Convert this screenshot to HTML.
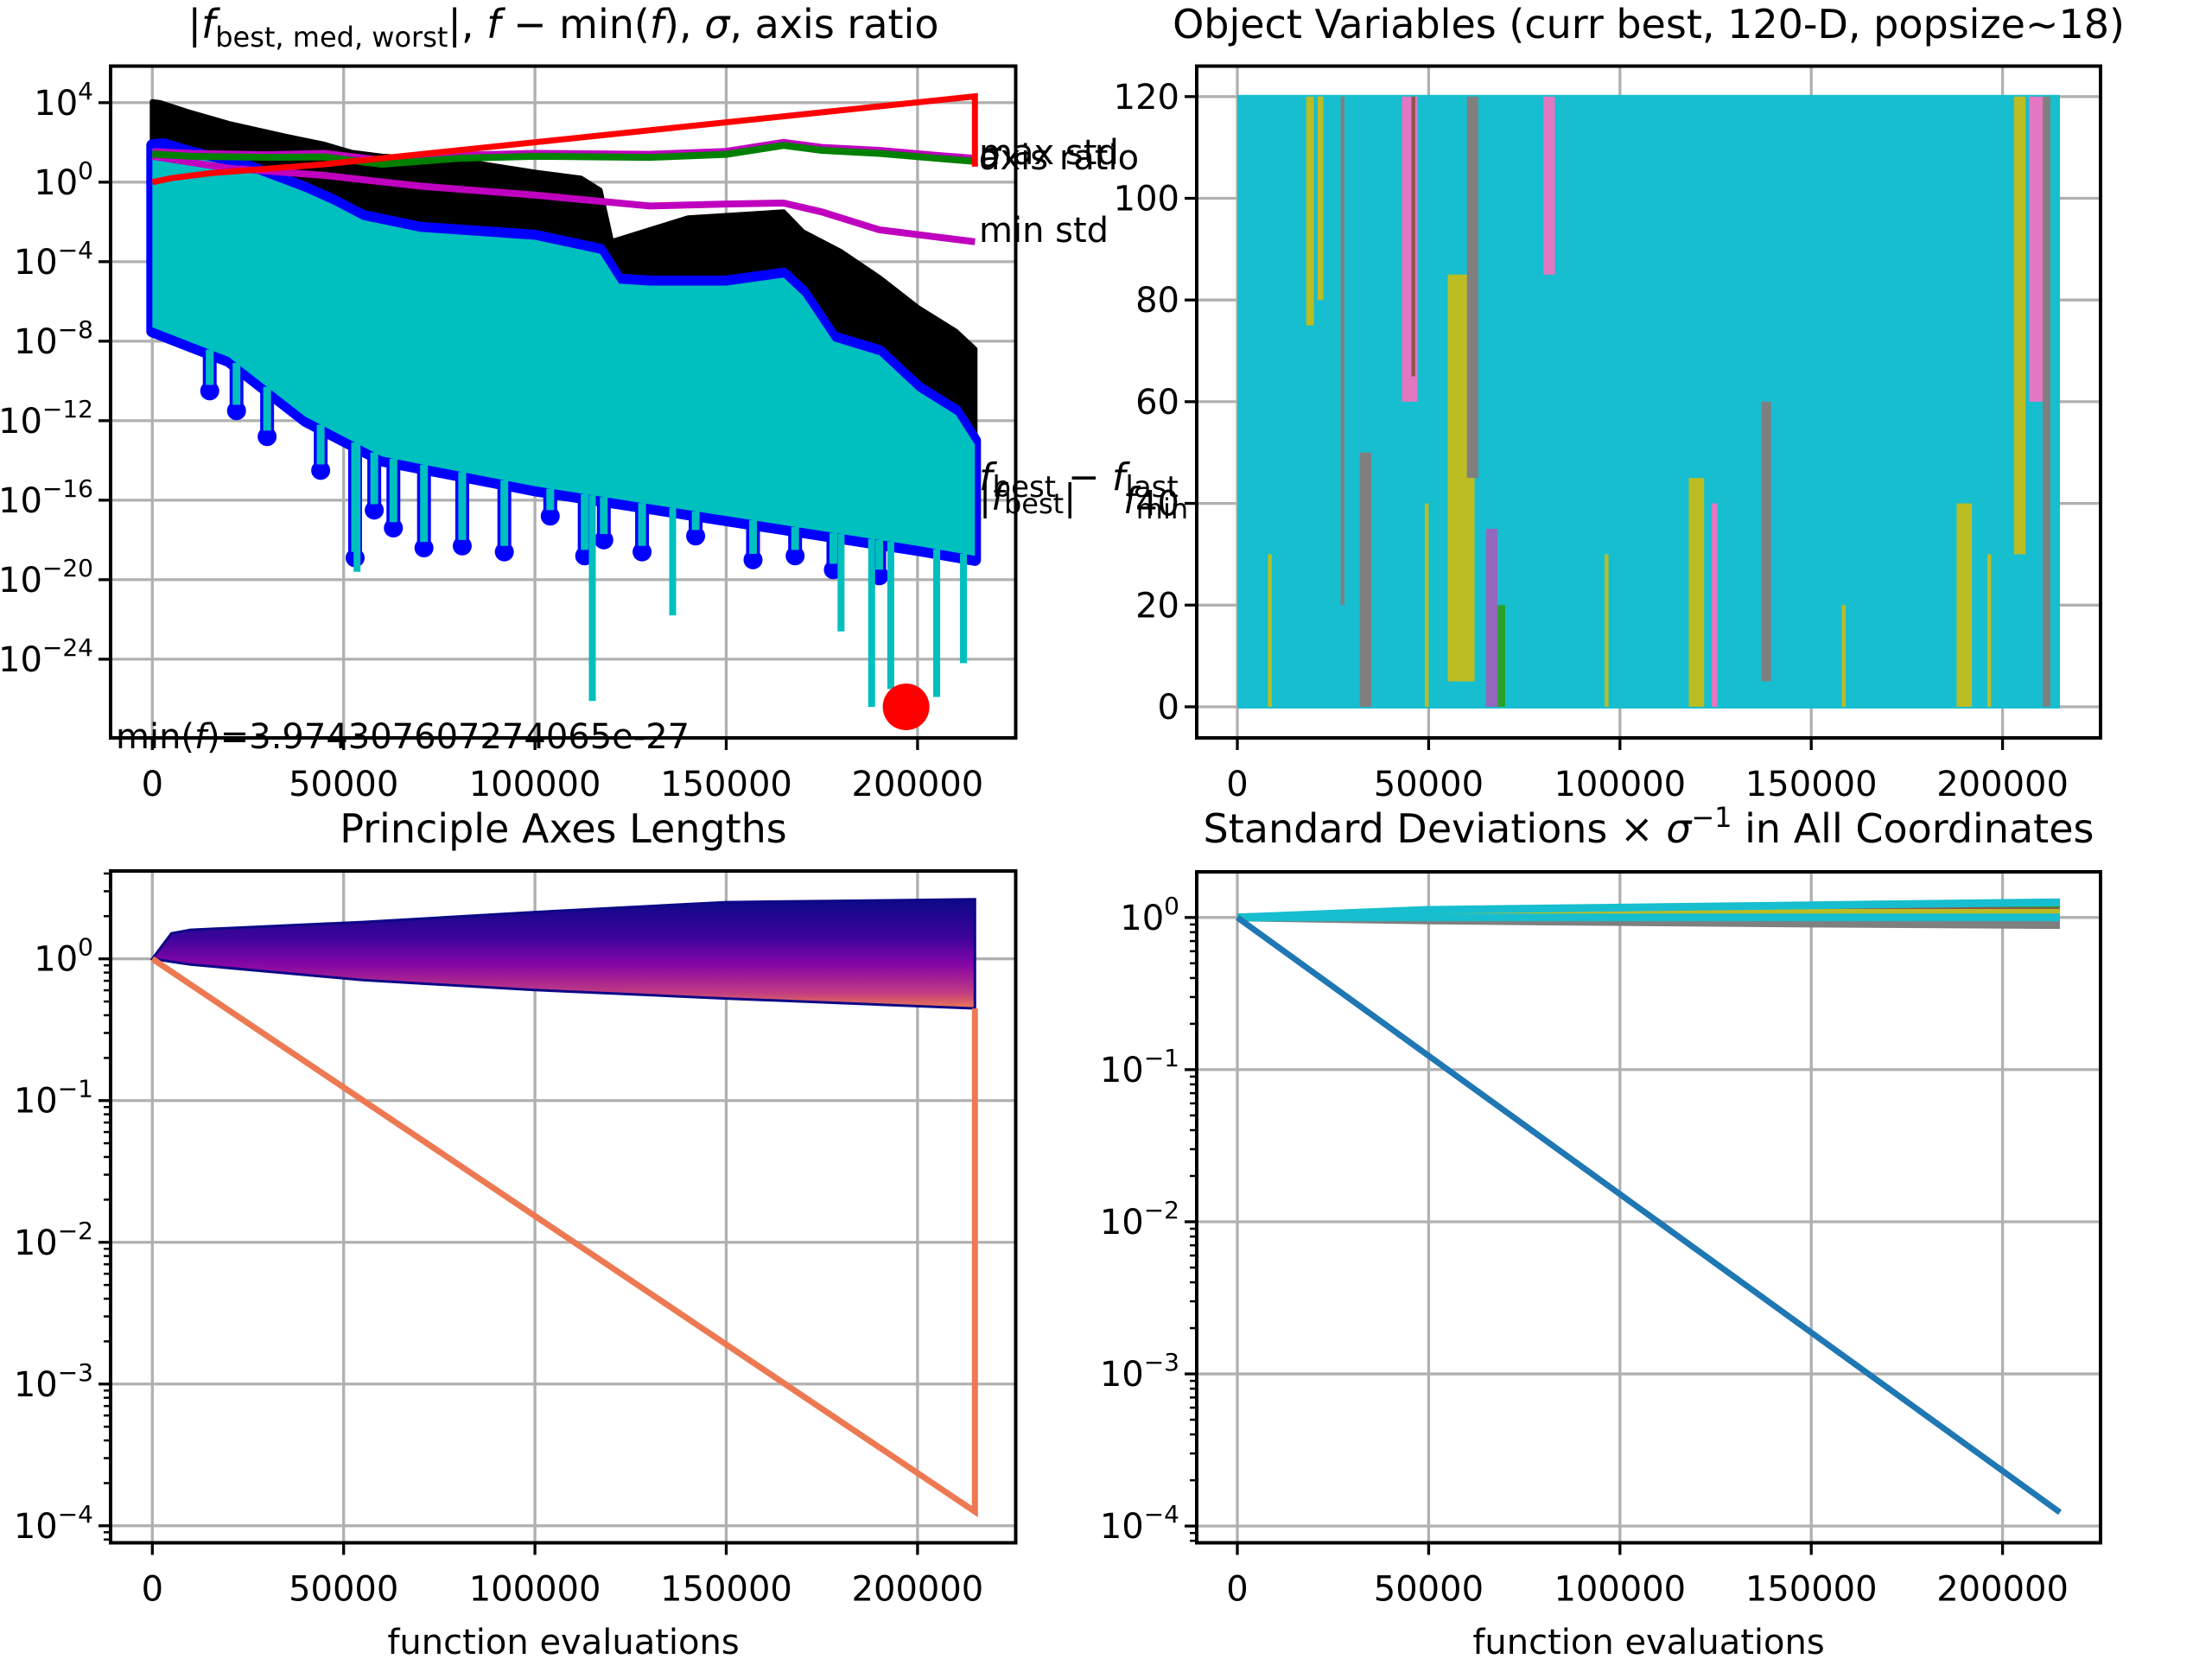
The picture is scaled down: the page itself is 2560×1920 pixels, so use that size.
<!DOCTYPE html>
<html><head><meta charset="utf-8">
<style>
html,body{margin:0;padding:0;background:#fff;}
svg{display:block;font-family:"DejaVu Sans","Liberation Sans",sans-serif;}
</style></head>
<body>
<svg id="fig" width="2560" height="1920" viewBox="0 0 2560 1920" xmlns="http://www.w3.org/2000/svg">
<defs>
<linearGradient id="plasmaGrad" x1="0" y1="0" x2="0" y2="1">
<stop offset="0" stop-color="#0d0887"/>
<stop offset="0.35" stop-color="#3d049b"/>
<stop offset="0.6" stop-color="#8606a6"/>
<stop offset="0.85" stop-color="#c03a83"/>
<stop offset="1" stop-color="#ed7953"/>
</linearGradient>
<clipPath id="clipTL"><rect x="128" y="76.5" width="1047.5" height="777.5"/></clipPath>
<clipPath id="clipTR"><rect x="1385" y="76.5" width="1046" height="777.5"/></clipPath>
<clipPath id="clipBL"><rect x="128" y="1008" width="1047.5" height="777.5"/></clipPath>
<clipPath id="clipBR"><rect x="1385" y="1009" width="1046" height="776.5"/></clipPath>
</defs>
</svg>
<script>
// ---------- data: top-left (f values, log10) ----------
const blackX   = [0,2000,10000,20000,35000,45000,52000,60000,80000,100000,112000,117000,120000,140000,165000,170000,180000,190000,200000,210000,215000];
const blackTop = [4.05,4.0,3.5,2.95,2.3,1.9,1.5,1.3,1.1,0.5,0.2,-0.4,-3.0,-1.8,-1.5,-2.5,-3.5,-4.8,-6.3,-7.5,-8.4];
const blueX    = [0,3000,10000,25000,40000,47000,55000,70000,100000,117000,122000,130000,150000,165000,170000,178000,190000,200000,210000,215000];
const blueTop  = [1.86,1.9,1.5,0.8,-0.3,-0.9,-1.7,-2.3,-2.7,-3.4,-4.9,-5.0,-5.0,-4.6,-5.5,-7.8,-8.5,-10.3,-11.5,-13.0];
const lowX     = [0,20000,40000,60000,100000,150000,200000,215000];
const blueLow  = [-7.5,-9.0,-12.0,-14.0,-15.5,-17.0,-18.5,-19.0];
const dipX     = [15000,22000,30000,44000,53000,58000,63000,71000,81000,92000,104000,113000,118000,128000,142000,157000,168000,178000,190000];
const dipLog   = [-10.5,-11.5,-12.8,-14.5,-18.9,-16.5,-17.4,-18.4,-18.3,-18.6,-16.8,-18.8,-18.0,-18.6,-17.8,-19.0,-18.8,-19.5,-19.8];
const spikeX   = [53500,115000,136000,180000,188000,193000,205000,212000];
const spikeLog = [-19.6,-26.1,-21.8,-22.6,-26.4,-25.5,-25.9,-24.2];
const redX     = [0,5000,15000,45000,215000,215000];
const redLog   = [0.0,0.2,0.45,0.9,4.32,0.78];
const greenX   = [0,10000,30000,45000,60000,80000,100000,130000,150000,165000,175000,190000,205000,215000];
const greenLog = [1.42,1.3,1.25,1.27,0.9,1.2,1.3,1.25,1.4,1.85,1.6,1.45,1.2,1.05];
const maxStdLog= [1.55,1.45,1.38,1.45,1.1,1.35,1.45,1.4,1.55,2.0,1.75,1.6,1.35,1.2];
const minX     = [0,20000,45000,70000,100000,130000,150000,165000,175000,190000,215000];
const minLog   = [1.3,0.7,0.34,-0.2,-0.65,-1.2,-1.1,-1.05,-1.5,-2.4,-3.0];
const minFX = 197000, minFLog = -26.4;
// ---------- data: top-right (object variables) ----------
const objXEnd = 215000, objLo = 0, objHi = 120;
const stripeX0 = [8000,18000,21000,27000,32000,43000,45500,49000,55000,60000,65000,68000,80000,96000,118000,124000,137000,158000,188000,196000,203000,207000,210500];
const stripeX1 = [9000,20000,22500,28000,35000,47000,46500,50000,62000,63000,68000,70000,83000,97000,122000,125500,139500,159000,192000,197000,206000,211000,212500];
const stripeLo = [0,75,80,20,0,60,65,0,5,45,0,0,85,0,0,0,5,0,0,0,30,60,0];
const stripeHi = [30,120,120,120,50,120,120,40,85,120,35,20,120,30,45,40,60,20,40,30,120,120,120];
const stripeColor = ["#bcbd22","#bcbd22","#bcbd22","#7f7f7f","#7f7f7f","#e377c2","#8c564b","#bcbd22","#bcbd22","#7f7f7f","#9467bd","#2ca02c","#e377c2","#bcbd22","#bcbd22","#e377c2","#7f7f7f","#bcbd22","#bcbd22","#bcbd22","#bcbd22","#e377c2","#7f7f7f"];
// ---------- data: bottom-left (principal axes, log10) ----------
const axX      = [0,5000,10000,55000,100000,150000,215000];
const axTop    = [0,0.18,0.205,0.26,0.33,0.40,0.42];
const axBottom = [0,-0.02,-0.04,-0.15,-0.22,-0.28,-0.35];
const minAxX   = [0,215000,215000];
const minAxLog = [0,-3.9,-0.35];
// ---------- data: bottom-right (std devs, log10) ----------
const sdX = [0,50000,100000,150000,215000];
const sdColors = ["#ff7f0e","#2ca02c","#d62728","#9467bd","#8c564b","#e377c2","#7f7f7f","#bcbd22","#17becf","#17becf"];
const sdA = [0.01,0.03,-0.01,0.0,0.03,0.01,-0.02,0.02,0.05,0.0];
const sdB = [0.02,0.05,-0.02,0.0,0.05,0.01,-0.04,0.03,0.08,0.0];
const sdEnd=[0.02,0.06,-0.03,-0.01,0.04,0.01,-0.05,0.03,0.1,0.0];
const mainSdX = [0,215000];
const mainSdLog = [0,-3.91];

// ---------- tick labels ----------
const xTicks = [0,50000,100000,150000,200000];
const xTickLabels = ["0","50000","100000","150000","200000"];
const tlYTicks = [4,0,-4,-8,-12,-16,-20,-24];
const trYTicks = [0,20,40,60,80,100,120];
const blYTicks = [0,-1,-2,-3,-4];
const brYTicks = [0,-1,-2,-3,-4];

const NS="http://www.w3.org/2000/svg";
const svg=document.getElementById('fig');
function el(tag,attrs,parent){const e=document.createElementNS(NS,tag);for(const k in attrs)e.setAttribute(k,attrs[k]);(parent||svg).appendChild(e);return e;}

function makeAx(l,r,t,b,xmin,xmax,ymin,ymax){
  return {l,r,t,b,x:v=>l+(v-xmin)/(xmax-xmin)*(r-l),y:v=>b-(v-ymin)/(ymax-ymin)*(b-t)};
}
const XMIN=-10908, XMAX=225655, XMIN2=-10614, XMAX2=225610;
const TL=makeAx(128,1175.5,76.5,854,XMIN,XMAX,-27.96,5.84);
const TR=makeAx(1385,2431,76.5,854,XMIN2,XMAX2,-6.12,126.0);
const BL=makeAx(128,1175.5,1008,1785.5,XMIN,XMAX,-4.12,0.62);
const BR=makeAx(1385,2431,1009,1785.5,XMIN2,XMAX2,-4.11,0.30);

function grid(ax,yt,name){
  const g=el('g',{});
  
  
  xTicks.forEach(v=>{el('line',{x1:ax.x(v),x2:ax.x(v),y1:ax.t,y2:ax.b,stroke:'#b0b0b0','stroke-width':3.3},g);});
  yt.forEach(v=>{el('line',{x1:ax.l,x2:ax.r,y1:ax.y(v),y2:ax.y(v),stroke:'#b0b0b0','stroke-width':3.3},g);});
}
function frame(ax,yt,ylab,name,minor){
  const g=el('g',{});
  
  
  el('rect',{x:ax.l,y:ax.t,width:ax.r-ax.l,height:ax.b-ax.t,fill:'none',stroke:'#000','stroke-width':4},g);
  xTicks.forEach((v,i)=>{
    el('line',{x1:ax.x(v),x2:ax.x(v),y1:ax.b,y2:ax.b+14,stroke:'#000','stroke-width':3.3},g);
    const t=el('text',{x:ax.x(v),y:ax.b+67,'font-size':40,'text-anchor':'middle'},g);
    
    
    t.textContent=xTickLabels[i];
  });
  yt.forEach(v=>{
    el('line',{x1:ax.l-14,x2:ax.l,y1:ax.y(v),y2:ax.y(v),stroke:'#000','stroke-width':3.3},g);
    const t=el('text',{x:ax.l-20,y:ax.y(v)+14,'font-size':40,'text-anchor':'end'},g);
    
    
    if(ylab==='lin'){t.textContent=String(v);}
    else{
      const a=el('tspan',{},t);a.textContent='10';
      const s=el('tspan',{dy:-18,'font-size':28},t);s.textContent=(v<0?'\u2212'+(-v):String(v));
    }
  });
  if(minor){
    for(let d=Math.floor(minor[0]);d<minor[1];d++){
      for(let m=2;m<10;m++){
        const lv=d+Math.log10(m);
        if(lv<minor[0]||lv>minor[1])continue;
        el('line',{x1:ax.l-8,x2:ax.l,y1:ax.y(lv),y2:ax.y(lv),stroke:'#000','stroke-width':2.5},g);
      }
    }
  }
}
function poly(ax,xs,ys){return xs.map((v,i)=>ax.x(v).toFixed(1)+','+ax.y(ys[i]).toFixed(1)).join(' ');}
function interp(xs,ys,x){for(let i=1;i<xs.length;i++){if(x<=xs[i]){const f=(x-xs[i-1])/(xs[i]-xs[i-1]||1);return ys[i-1]+f*(ys[i]-ys[i-1]);}}return ys[ys.length-1];}

// ===== Top-left =====
grid(TL,tlYTicks,'fvalue');
{
  const g=el('g',{'clip-path':'url(#clipTL)'});
  
  
  const bx=blackX.concat(lowX.slice().reverse()), by=blackTop.concat(blueLow.slice().reverse());
  let p=el('polygon',{points:poly(TL,bx,by),fill:'#000',stroke:'#000','stroke-width':6,'stroke-linejoin':'round'},g);
  
  
  const ux=blueX.concat(lowX.slice().reverse()), uy=blueTop.concat(blueLow.slice().reverse());
  p=el('polygon',{points:poly(TL,ux,uy),fill:'#0000ff',stroke:'#0000ff','stroke-width':14,'stroke-linejoin':'round'},g);
  
  
  dipX.forEach((x,i)=>{
    const top=interp(lowX,blueLow,x);
    el('line',{x1:TL.x(x),x2:TL.x(x),y1:TL.y(top),y2:TL.y(dipLog[i]),stroke:'#0000ff','stroke-width':16},g);
    const c=el('circle',{cx:TL.x(x),cy:TL.y(dipLog[i]),r:11,fill:'#0000ff'},g);
    
    
  });
  const cy1=blueTop.map(v=>v-0.2), cy2=blueLow.map(v=>v+0.2);
  p=el('polygon',{points:poly(TL,blueX.concat(lowX.slice().reverse()),cy1.concat(cy2.slice().reverse())),fill:'#00bfbf'},g);
  
  
  dipX.forEach((x,i)=>{
    const top=interp(lowX,blueLow,x)+0.2;
    el('line',{x1:TL.x(x),x2:TL.x(x),y1:TL.y(top),y2:TL.y(dipLog[i]+0.3),stroke:'#00bfbf','stroke-width':9},g);
  });
  spikeX.forEach((x,i)=>{
    const top=interp(lowX,blueLow,x)+0.2;
    const l=el('line',{x1:TL.x(x),x2:TL.x(x),y1:TL.y(top),y2:TL.y(spikeLog[i]),stroke:'#00bfbf','stroke-width':8},g);
    
    
  });
  p=el('polyline',{points:poly(TL,greenX,maxStdLog),fill:'none',stroke:'#bf00bf','stroke-width':8},g);
  
  
  p=el('polyline',{points:poly(TL,minX,minLog),fill:'none',stroke:'#bf00bf','stroke-width':8},g);
  
  
  p=el('polyline',{points:poly(TL,greenX,greenLog),fill:'none',stroke:'#008000','stroke-width':8},g);
  
  
  p=el('polyline',{points:poly(TL,redX,redLog),fill:'none',stroke:'#ff0000','stroke-width':7},g);
  
  
  const d=el('circle',{cx:TL.x(minFX),cy:TL.y(minFLog),r:27,fill:'#ff0000'},g);
  
  
}
frame(TL,tlYTicks,'log','fvalue',null);

// ===== Top-right =====
grid(TR,trYTicks,'objvars');
{
  const g=el('g',{'clip-path':'url(#clipTR)'});
  
  
  const r=el('rect',{x:TR.x(0),y:TR.y(objHi)-2,width:TR.x(objXEnd)-TR.x(0),height:TR.y(objLo)-TR.y(objHi)+4,fill:'#17becf'},g);
  
  
  stripeX0.forEach((x0,i)=>{
    const s=el('rect',{x:TR.x(x0),y:TR.y(stripeHi[i]),width:TR.x(stripeX1[i])-TR.x(x0),height:TR.y(stripeLo[i])-TR.y(stripeHi[i]),fill:stripeColor[i]},g);
    
    
  });
}
frame(TR,trYTicks,'lin','objvars',null);

// ===== Bottom-left =====
grid(BL,blYTicks,'axes-lengths');
{
  const g=el('g',{'clip-path':'url(#clipBL)'});
  
  
  const p=el('polygon',{points:poly(BL,axX.concat(axX.slice().reverse()),axTop.concat(axBottom.slice().reverse())),fill:'url(#plasmaGrad)',stroke:'#0d0887','stroke-width':3},g);
  
  
  const m=el('polyline',{points:poly(BL,minAxX,minAxLog),fill:'none',stroke:'#ed7953','stroke-width':7},g);
  
  
}
frame(BL,blYTicks,'log','axes-lengths',[-4.12,0.62]);

// ===== Bottom-right =====
grid(BR,brYTicks,'stds');
{
  const g=el('g',{'clip-path':'url(#clipBR)'});
  
  
  sdColors.forEach((c,i)=>{
    const ys=[0,sdA[i],(sdA[i]+sdB[i])/2,sdB[i],sdEnd[i]];
    const l=el('polyline',{points:poly(BR,sdX,ys),fill:'none',stroke:c,'stroke-width':9},g);
    
    
  });
  const m=el('polyline',{points:poly(BR,mainSdX,mainSdLog),fill:'none',stroke:'#1f77b4','stroke-width':7},g);
  
  
}
frame(BR,brYTicks,'log','stds',[-4.11,0.30]);
</script>
<svg style="position:absolute;left:0;top:0" width="2560" height="1920" viewBox="0 0 2560 1920" xmlns="http://www.w3.org/2000/svg" font-family="DejaVu Sans, Liberation Sans, sans-serif">
<text x="652" y="44" font-size="46" text-anchor="middle">|<tspan font-style="italic">f</tspan><tspan font-size="32" dy="10">best, med, worst</tspan><tspan dy="-10">|, </tspan><tspan font-style="italic">f</tspan> − min(<tspan font-style="italic">f</tspan>), <tspan font-style="italic">σ</tspan>, axis ratio</text>
<text x="1908" y="44" font-size="46" text-anchor="middle">Object Variables (curr best, 120-D, popsize~18)</text>
<text x="652" y="975" font-size="46" text-anchor="middle">Principle Axes Lengths</text>
<text x="1908" y="975" font-size="46" text-anchor="middle">Standard Deviations × <tspan font-style="italic">σ</tspan><tspan font-size="32" dy="-18">−1</tspan><tspan dy="18"> in All Coordinates</tspan></text>
<text x="652" y="1914" font-size="40" text-anchor="middle">function evaluations</text>
<text x="1908" y="1914" font-size="40" text-anchor="middle">function evaluations</text>
<text x="134" y="866" font-size="40">min(<tspan font-style="italic">f</tspan>)=3.974307607274065e-27</text>
<text x="1133" y="190" font-size="40">max std</text>
<text x="1133" y="193" font-size="40" font-style="italic">σ</text>
<text x="1133" y="196" font-size="40">axis ratio</text>
<text x="1133" y="280" font-size="40">min std</text>
<text x="1133" y="567" font-size="44"><tspan font-style="italic">f</tspan><tspan font-size="34" dy="8">best</tspan><tspan dy="-8"> − </tspan><tspan font-style="italic">f</tspan><tspan font-size="34" dy="8">last</tspan></text>
<text x="1133" y="590" font-size="42">|<tspan font-style="italic">f</tspan><tspan font-size="32" dy="4">best</tspan><tspan dy="-4">|</tspan></text>
<text x="1300" y="594" font-size="42"><tspan font-style="italic">f</tspan><tspan font-size="32" dy="6">min</tspan></text>
</svg>
</body></html>
